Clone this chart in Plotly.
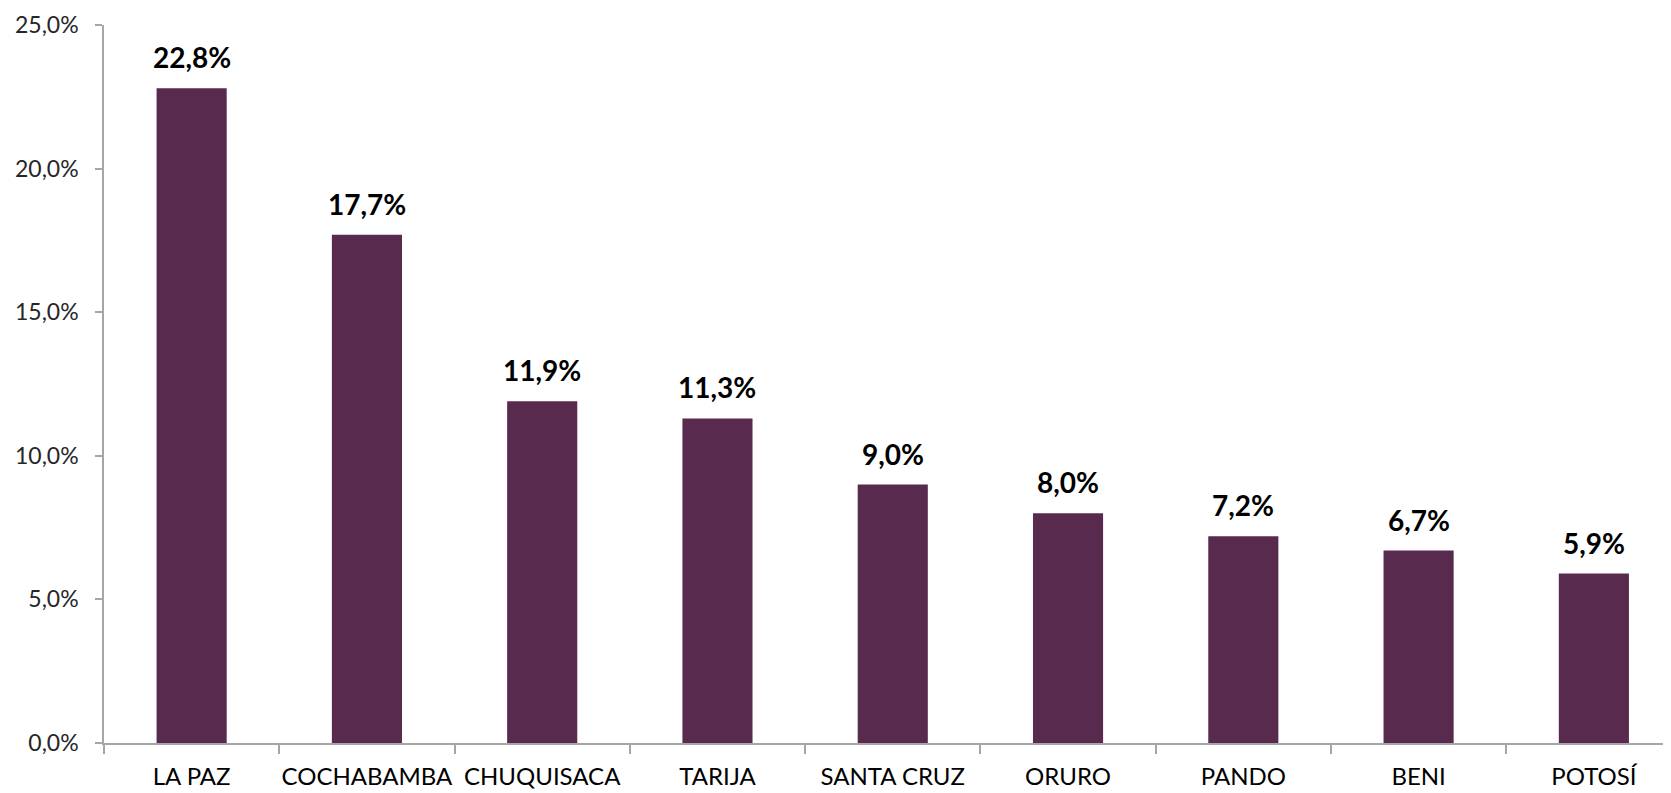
import plotly.graph_objects as go

categories = ["LA PAZ", "COCHABAMBA", "CHUQUISACA", "TARIJA", "SANTA CRUZ",
              "ORURO", "PANDO", "BENI", "POTOSÍ"]
values = [22.8, 17.7, 11.9, 11.3, 9.0, 8.0, 7.2, 6.7, 5.9]
labels = [f"{v:.1f}%".replace(".", ",") for v in values]
y_ticks = [0, 5, 10, 15, 20, 25]
y_tick_text = ["0,0%", "5,0%", "10,0%", "15,0%", "20,0%", "25,0%"]

BAR = "#582A4E"
AXIS = "#A6A6A6"
FONT = "Lato"

fig = go.Figure()
fig.add_trace(go.Bar(
    x=categories, y=values, marker=dict(color=BAR, line=dict(width=0)),
    width=0.4, hoverinfo="skip",
))

for c, v, t in zip(categories, values, labels):
    fig.add_annotation(
        x=c, y=v, text=f"<b>{t}</b>", showarrow=False,
        yanchor="bottom", yshift=12,
        font=dict(family=FONT, size=28, color="#000000"),
    )

fig.update_layout(
    width=1663, height=785,
    margin=dict(l=96, r=0, t=17, b=50),
    paper_bgcolor="white", plot_bgcolor="white",
    separators=",.",
    showlegend=False,
    font=dict(family=FONT, size=22, color="#262626"),
)
fig.update_xaxes(
    type="category", range=[-0.5, 8.44], automargin=False, tickangle=0,
    showline=True, linecolor=AXIS, linewidth=1.5,
    ticks="outside", tickson="boundaries", ticklen=9, tickcolor=AXIS, tickwidth=1.5,
    tickfont=dict(family=FONT, size=24, color="#000000"),
    showgrid=False, zeroline=False, ticklabelstandoff=11,
)
fig.update_yaxes(
    range=[0, 25], tickvals=y_ticks, ticktext=y_tick_text, automargin=False,
    showline=True, linecolor=AXIS, linewidth=1.5,
    ticks="outside", ticklen=7, tickcolor=AXIS, tickwidth=1.5,
    tickfont=dict(family=FONT, size=23, color="#262626"),
    showgrid=False, zeroline=False, ticklabelstandoff=12,
)

fig.write_html("out.html")
